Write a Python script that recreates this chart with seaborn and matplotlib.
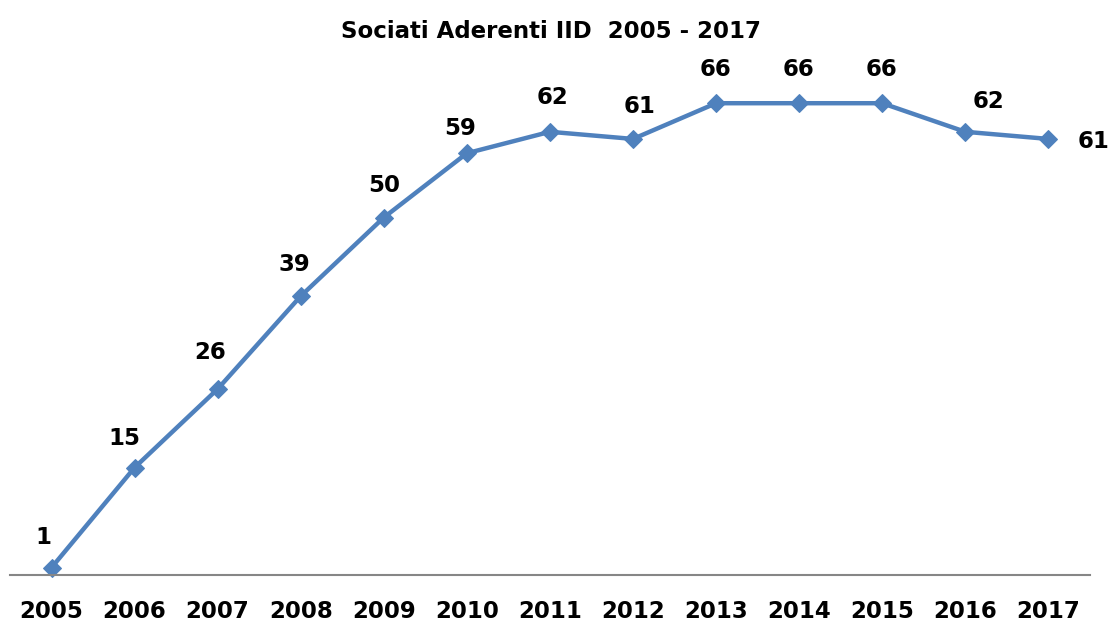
import matplotlib
matplotlib.use("Agg")
import matplotlib.pyplot as plt
import seaborn as sns
import pandas as pd

# --- Data ---
years = ["2005", "2006", "2007", "2008", "2009", "2010", "2011",
         "2012", "2013", "2014", "2015", "2016", "2017"]
members = [1, 15, 26, 39, 50, 59, 62, 61, 66, 66, 66, 62, 61]

# label nudges (pixels) - the original labels were not placed uniformly
label_dx = [-8, -10, -8, -6, 0, -7, 3, 7, -1, -1, -1, 23, 45]
label_dy = [30, 29, 36, 32, 32, 25, 34, 32, 34, 34, 34, 30, -3]

df = pd.DataFrame({"year": years, "members": members})

sns.set_theme(style="white")
plt.rcParams["font.family"] = ["DejaVu Sans"]
plt.rcParams["text.color"] = "black"
plt.rcParams["xtick.color"] = "black"

line_color = "#4F81BD"

fig, ax = plt.subplots(figsize=(11.11, 6.22), dpi=100)
fig.subplots_adjust(left=0.009, right=0.981, top=0.88, bottom=0.076)

sns.lineplot(data=df, x="year", y="members", sort=False, ax=ax,
             color=line_color, linewidth=3.2, marker="D", markersize=9,
             markeredgecolor=line_color, clip_on=False)

for i, v in enumerate(members):
    ax.annotate(str(v), (i, v), xytext=(label_dx[i], label_dy[i]),
                textcoords="offset pixels", ha="center", va="center",
                fontsize=16.5, fontweight="bold", color="black",
                annotation_clip=False)

ax.set_xlim(-0.5, len(years) - 0.5)
ax.set_ylim(0, 70)
ax.set_yticks([])
ax.set_xlabel("")
ax.set_ylabel("")
ax.tick_params(axis="x", length=0, pad=18, labelsize=16.5, labelcolor="black")
for lbl in ax.get_xticklabels():
    lbl.set_fontweight("bold")

for side in ["top", "right", "left"]:
    ax.spines[side].set_visible(False)
ax.spines["bottom"].set_color("#868686")
ax.spines["bottom"].set_linewidth(1.5)

fig.suptitle("Sociati Aderenti IID  2005 - 2017", x=0.496, y=0.968,
             fontsize=16.5, fontweight="bold", color="black")

fig.savefig("out.png", dpi=100)
